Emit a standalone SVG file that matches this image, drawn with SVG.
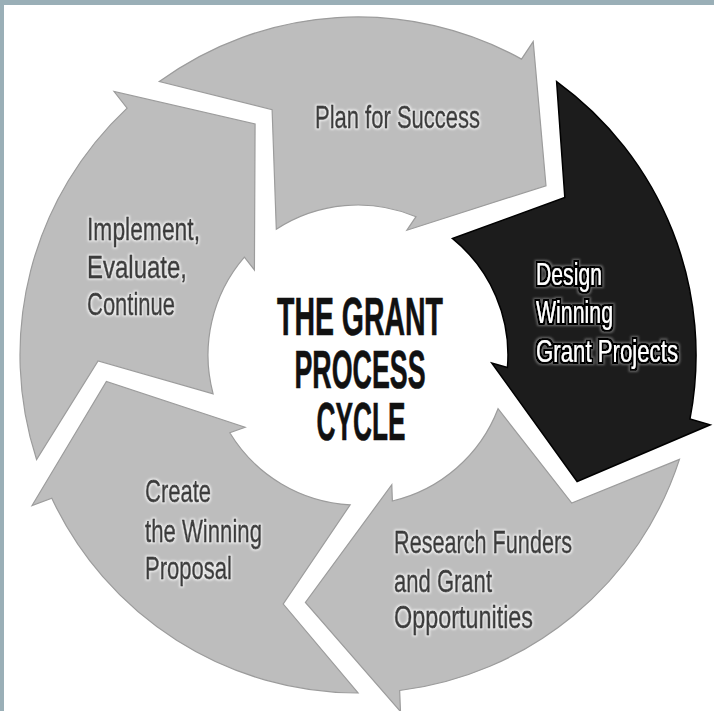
<svg xmlns="http://www.w3.org/2000/svg" xmlns:xlink="http://www.w3.org/1999/xlink" width="714" height="711" viewBox="0 0 714 711">
  <style>
    .frame { fill: #9aafb7; }
    .arrow-gray { fill: #bdbdbd; stroke: #9c9c9c; stroke-width: 1.2; stroke-linejoin: miter; }
    .arrow-dark { fill: #1c1c1c; stroke: #000000; stroke-width: 1.5; stroke-linejoin: miter; }
    .lbl { font-family: 'Liberation Sans Narrow', 'Liberation Sans', Arial, sans-serif; font-size: 32px; fill: #3b3b3b; stroke: #3b3b3b; stroke-width: 0.8; stroke-linejoin: round; }
    .lbl-dark { font-family: 'Liberation Sans Narrow', 'Liberation Sans', Arial, sans-serif; font-size: 32px; fill: #ffffff; }
    .title { font-family: 'Liberation Sans Narrow', 'Liberation Sans', Arial, sans-serif; font-size: 53px; font-weight: bold; fill: #111111; stroke: #111111; stroke-width: 0.6; }
  </style>
  <defs>
    <path id="arrowShape" d="M159.3,81.6 A338,338 0 0 1 521.5,59.1 L533.2,41.6 L546.0,185.7 L406.9,230.2 L416.0,216.7 A150,150 0 0 0 276.3,229.2 L272.1,109.6 Z"/>
    <filter id="glowLight" x="-20%" y="-40%" width="140%" height="180%">
      <feMorphology in="SourceAlpha" operator="dilate" radius="1" result="d"/>
      <feGaussianBlur in="d" stdDeviation="1.3" result="b"/>
      <feFlood flood-color="#ffffff" flood-opacity="0.8"/>
      <feComposite in2="b" operator="in" result="g"/>
      <feMerge><feMergeNode in="g"/><feMergeNode in="SourceGraphic"/></feMerge>
    </filter>
    <filter id="outlineDark" x="-20%" y="-40%" width="140%" height="180%">
      <feMorphology in="SourceAlpha" operator="dilate" radius="2.6" result="d2"/>
      <feGaussianBlur in="d2" stdDeviation="1.2" result="b"/>
      <feFlood flood-color="#8a8a8a" flood-opacity="0.7"/>
      <feComposite in2="b" operator="in" result="halo"/>
      <feMorphology in="SourceAlpha" operator="dilate" radius="1.8" result="d1"/>
      <feFlood flood-color="#000000"/>
      <feComposite in2="d1" operator="in" result="outline"/>
      <feMorphology in="SourceGraphic" operator="dilate" radius="0.4" result="thick"/>
      <feMerge><feMergeNode in="halo"/><feMergeNode in="outline"/><feMergeNode in="thick"/></feMerge>
    </filter>
  </defs>

  <rect width="714" height="711" fill="#ffffff"/>
  <rect class="frame" x="0" y="0" width="714" height="5"/>
  <rect class="frame" x="0" y="0" width="4" height="711"/>

  <g id="plan-for-success">
    <use xlink:href="#arrowShape" class="arrow-gray"/>
    <text class="lbl" filter="url(#glowLight)" x="315" y="128" textLength="165" lengthAdjust="spacingAndGlyphs">Plan for Success</text>
  </g>

  <g id="design-winning-grant-projects">
    <use xlink:href="#arrowShape" class="arrow-dark" transform="rotate(72 358 355)"/>
    <g class="lbl-dark" filter="url(#outlineDark)">
      <text x="536" y="285" textLength="66" lengthAdjust="spacingAndGlyphs">Design</text>
      <text x="536" y="323" textLength="77" lengthAdjust="spacingAndGlyphs">Winning</text>
      <text x="536" y="362" textLength="142" lengthAdjust="spacingAndGlyphs">Grant Projects</text>
    </g>
  </g>

  <g id="research-funders">
    <use xlink:href="#arrowShape" class="arrow-gray" transform="rotate(144 358 355)"/>
    <g class="lbl" filter="url(#glowLight)">
      <text x="394" y="553" textLength="178" lengthAdjust="spacingAndGlyphs">Research Funders</text>
      <text x="394" y="592" textLength="98" lengthAdjust="spacingAndGlyphs">and Grant</text>
      <text x="394" y="628" textLength="139" lengthAdjust="spacingAndGlyphs">Opportunities</text>
    </g>
  </g>

  <g id="create-winning-proposal">
    <use xlink:href="#arrowShape" class="arrow-gray" transform="rotate(216 358 355)"/>
    <g class="lbl" filter="url(#glowLight)">
      <text x="145" y="502" textLength="66" lengthAdjust="spacingAndGlyphs">Create</text>
      <text x="145" y="542" textLength="117" lengthAdjust="spacingAndGlyphs">the Winning</text>
      <text x="145" y="579" textLength="87" lengthAdjust="spacingAndGlyphs">Proposal</text>
    </g>
  </g>

  <g id="implement-evaluate-continue">
    <use xlink:href="#arrowShape" class="arrow-gray" transform="rotate(288 358 355)"/>
    <g class="lbl" filter="url(#glowLight)">
      <text x="87" y="240" textLength="113" lengthAdjust="spacingAndGlyphs">Implement,</text>
      <text x="87" y="278" textLength="100" lengthAdjust="spacingAndGlyphs">Evaluate,</text>
      <text x="87" y="315" textLength="88" lengthAdjust="spacingAndGlyphs">Continue</text>
    </g>
  </g>

  <g id="center-title">
    <text class="title" x="360" y="335" text-anchor="middle" textLength="166" lengthAdjust="spacingAndGlyphs">THE GRANT</text>
    <text class="title" x="360" y="388" text-anchor="middle" textLength="131" lengthAdjust="spacingAndGlyphs">PROCESS</text>
    <text class="title" x="361" y="440" text-anchor="middle" textLength="89" lengthAdjust="spacingAndGlyphs">CYCLE</text>
  </g>
</svg>
